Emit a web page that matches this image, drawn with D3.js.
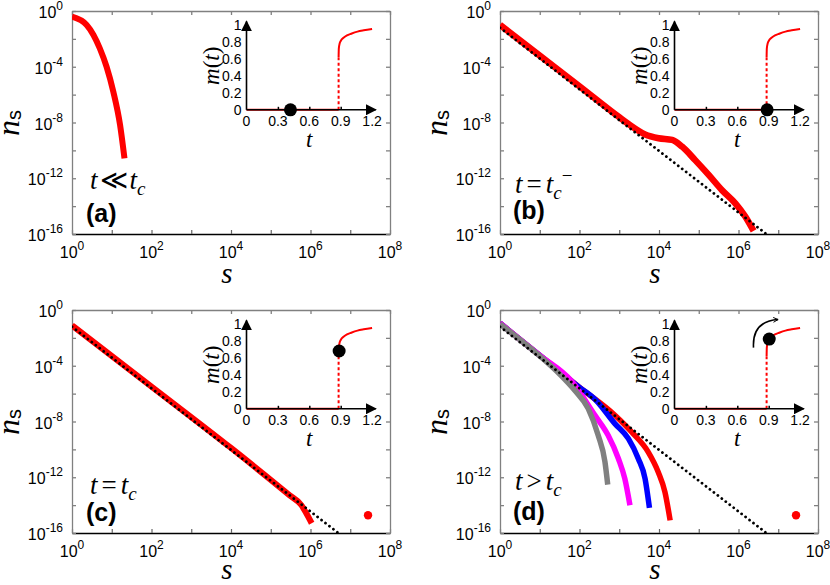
<!DOCTYPE html>
<html><head><meta charset="utf-8">
<script src="https://cdn.jsdelivr.net/npm/d3@7"></script>
<style>body{margin:0;background:#fff}svg{display:block}</style>
</head><body>
<script>
// ---------- data ----------
const xDecades = [1,1e1,1e2,1e3,1e4,1e5,1e6,1e7,1e8];
const xLabelVals = [1,1e2,1e4,1e6,1e8];
const xLabelExp = ["0","2","4","6","8"];
const yTickVals = [1,1e-2,1e-4,1e-6,1e-8,1e-10,1e-12,1e-14,1e-16];
const yLabelVals = [1,1e-4,1e-8,1e-12,1e-16];
const yLabelExp = ["0","-4","-8","-12","-16"];

// reference power law (dotted)
const refS = [1, 5.0e6];
const refN = [0.063, 1e-16];

// panel (a) t << tc
const aS = [1, 2.34, 3.47, 5.01, 7.41, 10.96, 16.2, 20.9];
const aN = [0.389, 0.1, 0.0191, 2.09e-3, 1e-4, 1.62e-6, 6.61e-9, 2.69e-11];

// panel (b) t = tc-
const bS = [1, 10, 100, 1000, 1700, 4470, 9770, 21400, 38000, 81300, 178000, 380000, 832000, 1.48e6, 2.4e6];
const bN = [0.1, 6.3e-4, 4e-6, 2.4e-8, 7.9e-9, 1.4e-9, 7.4e-10, 5.6e-10, 1.86e-10, 2.0e-11, 1.74e-12, 1.45e-13, 1.6e-14, 1.8e-15, 1.66e-16];

// panel (c) t = tc
const cS = [1, 100, 1e4, 3.0e5, 5.9e5, 7.9e5, 1.07e6];
const cN = [0.079, 3.2e-6, 1.26e-10, 5e-14, 1e-14, 2.5e-15, 5e-16];

// panel (d) t > tc
const dGrayS = [1, 10, 31.6, 77.6, 166, 295, 437, 513];
const dGrayN = [0.1, 5.01e-4, 2.51e-5, 1.58e-6, 8.32e-8, 1.02e-9, 1.26e-11, 2.95e-13];
const dMagS = [1, 10, 63.1, 245, 525, 955, 1380, 1860];
const dMagN = [0.112, 5.62e-4, 7.94e-6, 2.75e-8, 1.02e-9, 2.14e-11, 7.94e-13, 9.77e-15];
const dBlueS = [1, 10, 100, 245, 776, 1698, 3020, 4467, 5754];
const dBlueN = [0.112, 5.62e-4, 2.82e-6, 3.98e-7, 7.08e-9, 5.89e-10, 2.14e-11, 7.94e-13, 6.31e-15];
const dRedS = [1, 10, 100, 776, 2042, 5370, 9550, 14125, 19055];
const dRedN = [0.112, 5.62e-4, 2.82e-6, 2.82e-8, 1.78e-9, 6.46e-11, 2.4e-12, 8.7e-14, 8.1e-16];

// giant-cluster point (c),(d)
const giantS = 2.8e7, giantN = 1.9e-15;

// inset m(t)
const insetTTicks = [0, 0.3, 0.6, 0.9, 1.2];
const insetTLabels = ["0","0.3","0.6","0.9","1.2"];
const insetMTicks = [0, 0.2, 0.4, 0.6, 0.8, 1];
const insetMLabels = ["0","0.2","0.4","0.6","0.8","1"];
const flatT = [0, 0.88], flatM = [0, 0];
const jumpT = [0.88, 0.88], jumpM = [0, 0.62];
const upT = [0.88, 0.882, 0.89, 0.9, 0.93, 0.96, 1.0, 1.06, 1.12, 1.2];
const upM = [0.62, 0.72, 0.78, 0.81, 0.85, 0.875, 0.895, 0.92, 0.935, 0.95];
const dotT = [0.42, 0.885, 0.885, 0.905];
const dotM = [0, 0, 0.68, 0.82];

// ---------- drawing ----------
const W = 318, H = 223;
const panels = [
  {key:"a", left:72, top:11, sLabelY:283, lab:"(a)", labY:222, annY:189},
  {key:"b", left:500, top:11, sLabelY:283, lab:"(b)", labY:219, annY:193},
  {key:"c", left:72, top:310, sLabelY:579, lab:"(c)", labY:521, annY:494},
  {key:"d", left:500, top:310, sLabelY:579, lab:"(d)", labY:520, annY:490}
];
const SANS = "'Liberation Sans', Arial, Helvetica, sans-serif";
const SERIF = "'Liberation Serif', 'Times New Roman', serif";

const svg = d3.select("body").append("svg").attr("width", 830).attr("height", 585)
  .style("background", "#fff");
const defs = svg.append("defs");
defs.append("marker").attr("id","ahead").attr("viewBox","0 0 10 10").attr("refX",9).attr("refY",5)
  .attr("markerWidth",7).attr("markerHeight",7).attr("orient","auto")
  .append("path").attr("d","M0,0 L10,5 L0,10 Z").attr("fill","#000");
defs.append("marker").attr("id","openhead").attr("viewBox","0 0 10 10").attr("refX",9).attr("refY",5)
  .attr("markerWidth",6).attr("markerHeight",6).attr("orient","auto").attr("markerUnits","userSpaceOnUse")
  .append("path").attr("d","M1,1 L9,5 L1,9").attr("fill","none").attr("stroke","#000").attr("stroke-width",1.6);

function zip(a, b){ return a.map((v,i)=>[v,b[i]]); }

panels.forEach(p => {
  const g = svg.append("g");
  const x = d3.scaleLog().domain([1,1e8]).range([p.left, p.left+W]);
  const y = d3.scaleLog().domain([1,1e-16]).range([p.top, p.top+H]);

  defs.append("clipPath").attr("id","clip"+p.key).append("rect")
    .attr("x",p.left).attr("y",p.top).attr("width",W).attr("height",H);

  // axes
  const axB = g.append("g").attr("transform",`translate(0,${p.top+H})`)
    .call(d3.axisBottom(x).tickValues(xDecades).tickSizeInner(-4).tickSizeOuter(0).tickFormat(""));
  const axT = g.append("g").attr("transform",`translate(0,${p.top})`)
    .call(d3.axisTop(x).tickValues(xDecades).tickSizeInner(-4).tickSizeOuter(0).tickFormat(""));
  const axL = g.append("g").attr("transform",`translate(${p.left},0)`)
    .call(d3.axisLeft(y).tickValues(yTickVals).tickSizeInner(-4).tickSizeOuter(0).tickFormat(""));
  const axR = g.append("g").attr("transform",`translate(${p.left+W},0)`)
    .call(d3.axisRight(y).tickValues(yTickVals).tickSizeInner(-4).tickSizeOuter(0).tickFormat(""));
  [axT, axL, axR].forEach(a => { a.selectAll("path,line").attr("stroke","#808080").attr("stroke-width",1.3); });
  axB.selectAll("path").attr("stroke","#000").attr("stroke-width",1.5);
  axB.selectAll("line").attr("stroke","#666").attr("stroke-width",1.2);

  // tick labels
  const xl = g.append("g").attr("font-family",SANS).attr("fill","#000");
  xLabelVals.forEach((v,i) => {
    const t = xl.append("text").attr("x",x(v)).attr("y",p.top+H+24).attr("text-anchor","middle")
      .attr("font-size",16);
    t.append("tspan").text("10");
    t.append("tspan").attr("dy",-8).attr("font-size",12).text(xLabelExp[i]);
  });
  yLabelVals.forEach((v,i) => {
    const t = xl.append("text").attr("x",p.left-9).attr("y",y(v)+7).attr("text-anchor","end")
      .attr("font-size",16);
    t.append("tspan").text("10");
    t.append("tspan").attr("dy",-8).attr("font-size",12).text(yLabelExp[i]);
  });

  // axis titles
  const yt = g.append("text").attr("transform",`translate(${p.left-53},${p.top+112}) rotate(-90)`)
    .attr("text-anchor","middle");
  yt.append("tspan").attr("font-family",SERIF).attr("font-style","italic").attr("font-size",32).text("n");
  yt.append("tspan").attr("font-family",SANS).attr("font-size",20).attr("dy",2).text("s");
  g.append("text").attr("x",p.left+155).attr("y",p.sLabelY).attr("text-anchor","middle")
    .attr("font-family",SERIF).attr("font-style","italic").attr("font-size",29).text("s");

  // curves
  const line = d3.line().x(d=>x(d[0])).y(d=>y(d[1])).curve(d3.curveMonotoneX);
  const cg = g.append("g").attr("clip-path",`url(#clip${p.key})`);
  const thick = (s,n,color,w) => cg.append("path").attr("d",line(zip(s,n))).attr("fill","none")
      .attr("stroke",color).attr("stroke-width",w).attr("stroke-linecap","butt").attr("stroke-linejoin","round");
  const dotted = () => cg.append("path").attr("d",d3.line().x(d=>x(d[0])).y(d=>y(d[1]))(zip(refS,refN)))
      .attr("fill","none").attr("stroke","#000").attr("stroke-width",2.8)
      .attr("stroke-linecap","round").attr("stroke-dasharray","0.01 5");

  if (p.key === "a") {
    thick(aS, aN, "#ff0000", 6);
  } else if (p.key === "b") {
    thick(bS, bN, "#ff0000", 6.5);
    dotted();
  } else if (p.key === "c") {
    thick(cS, cN, "#ff0000", 6);
    dotted();
  } else {
    thick(dRedS, dRedN, "#ff0000", 5.5);
    thick(dBlueS, dBlueN, "#0000ff", 5.5);
    thick(dMagS, dMagN, "#ff00ff", 5.5);
    thick(dGrayS, dGrayN, "#808080", 5.5);
    dotted();
  }
  if (p.key === "c" || p.key === "d") {
    g.append("circle").attr("cx",x(giantS)).attr("cy",y(giantN)).attr("r",4.2).attr("fill","#ff0000");
  }

  // annotations
  const ann = g.append("text").attr("x",p.left+ (p.key==="a"||p.key==="c" ? 18 : 15)).attr("y",p.annY)
    .attr("font-family",SERIF).attr("font-size",27);
  if (p.key === "a") {
    ann.append("tspan").attr("font-style","italic").text("t");
    ann.append("tspan").attr("dx",2).text("\u226A");
    ann.append("tspan").attr("dx",2).attr("font-style","italic").text("t");
    ann.append("tspan").attr("font-style","italic").attr("font-size",19).attr("dy",6).text("c");
  } else {
    const op = p.key==="d" ? ">" : "=";
    ann.append("tspan").attr("font-style","italic").text("t");
    ann.append("tspan").attr("dx",4).text(op);
    ann.append("tspan").attr("dx",4).attr("font-style","italic").text("t");
    ann.append("tspan").attr("font-style","italic").attr("font-size",19).attr("dy",6).text("c");
    if (p.key === "b") ann.append("tspan").attr("font-size",19).attr("dy",-17).text("\u2212");
  }
  g.append("text").attr("x",p.left+(p.key==="a"||p.key==="c" ? 14 : 13)).attr("y",p.labY)
    .attr("font-family",SANS).attr("font-weight","bold").attr("font-size",25).text(p.lab);

  // ---------- inset ----------
  const ox = p.left + 174.5, oy = p.top + 98.8;
  const tx = d3.scaleLinear().domain([0,1.2]).range([ox, ox+125.6]);
  const my = d3.scaleLinear().domain([0,1]).range([oy, oy-85]);
  const ig = g.append("g");
  const il = d3.line().x(d=>tx(d[0])).y(d=>my(d[1]));
  ig.append("path").attr("d",il(zip(flatT,flatM))).attr("fill","none").attr("stroke","#ff0000").attr("stroke-width",2);
  ig.append("path").attr("d",il(zip(jumpT,jumpM))).attr("fill","none").attr("stroke","#ff0000").attr("stroke-width",2)
    .attr("stroke-dasharray","3 2.5");
  ig.append("path").attr("d",d3.line().x(d=>tx(d[0])).y(d=>my(d[1])).curve(d3.curveMonotoneX)(zip(upT,upM)))
    .attr("fill","none").attr("stroke","#ff0000").attr("stroke-width",2);
  ig.append("line").attr("x1",tx(0)).attr("y1",my(0)).attr("x2",tx(1.235)).attr("y2",my(0))
    .attr("stroke","#000").attr("stroke-width",1.6).attr("marker-end","url(#ahead)");
  ig.append("line").attr("x1",tx(0)).attr("y1",my(0)).attr("x2",tx(0)).attr("y2",my(1.04))
    .attr("stroke","#000").attr("stroke-width",1.6).attr("marker-end","url(#ahead)");
  const iax = ig.append("g").attr("transform",`translate(0,${oy})`)
    .call(d3.axisTop(tx).tickValues([0.3,0.6,0.9]).tickSize(3).tickFormat(""));
  iax.select(".domain").remove();
  iax.selectAll("line").attr("stroke","#000").attr("stroke-width",1.5);
  insetTTicks.forEach((v,i) => {
    ig.append("text").attr("x",tx(v)).attr("y",oy+16.5).attr("text-anchor","middle")
      .attr("font-family",SANS).attr("font-size",14).text(insetTLabels[i]);
  });
  insetMTicks.forEach((v,i) => {
    ig.append("text").attr("x",ox-5).attr("y",my(v)).attr("dy","0.36em").attr("text-anchor","end")
      .attr("font-family",SANS).attr("font-size",14).text(insetMLabels[i]);
  });
  const mt = ig.append("text").attr("transform",`translate(${ox-28},${oy-44}) rotate(-90)`)
    .attr("text-anchor","middle").attr("font-family",SERIF).attr("font-size",23);
  mt.append("tspan").attr("font-style","italic").text("m");
  mt.append("tspan").text("(");
  mt.append("tspan").attr("font-style","italic").text("t");
  mt.append("tspan").text(")");
  ig.append("text").attr("x",tx(0.6)).attr("y",oy+37).attr("text-anchor","middle")
    .attr("font-family",SERIF).attr("font-style","italic").attr("font-size",23).text("t");
  const di = ["a","b","c","d"].indexOf(p.key);
  ig.append("circle").attr("cx",tx(dotT[di])).attr("cy",my(dotM[di])).attr("r",6.5).attr("fill","#000");
  if (p.key === "d") {
    const ap = d3.path();
    ap.moveTo(tx(0.755), my(0.72));
    ap.quadraticCurveTo(tx(0.74), my(1.03), tx(0.99), my(1.05));
    ig.append("path").attr("d",ap.toString()).attr("fill","none").attr("stroke","#000")
      .attr("stroke-width",1.6).attr("marker-end","url(#openhead)");
  }
});
</script>
</body></html>
